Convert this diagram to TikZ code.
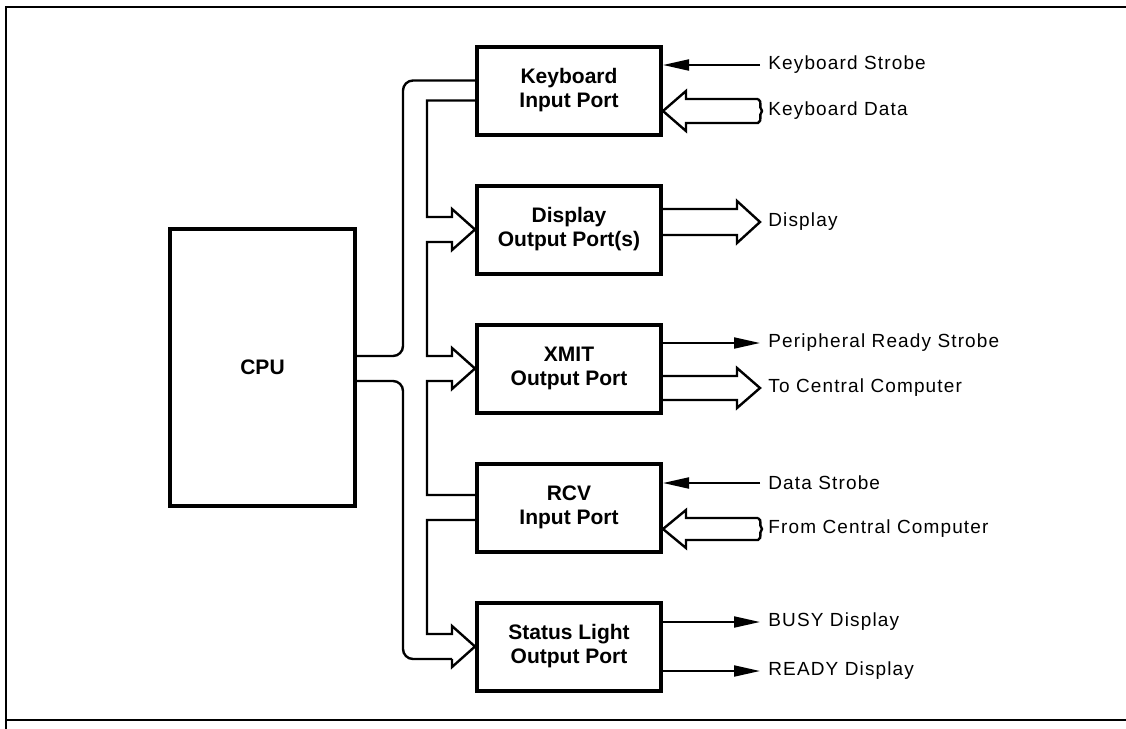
\documentclass[tikz,border=0pt]{standalone}
\usepackage{fontspec}
\setmainfont{Liberation Sans}
\usetikzlibrary{calc, positioning, arrows.meta}

\begin{document}
\begin{tikzpicture}[
    x=0.5pt, y=-0.5pt,
    port/.style={draw, line width=2pt, minimum width=92pt, minimum height=44pt,
      inner sep=2pt, align=center, font=\bfseries\fontsize{10.5}{12}\selectfont},
    sig/.style={anchor=west, inner sep=4pt,
      font=\fontsize{9.5}{11}\selectfont\addfontfeatures{LetterSpace=6}},
    bus/.style={line width=1.2pt, line join=miter},
    strobe/.style={line width=1pt, -{Triangle[length=13pt, width=5.5pt]}},
    node distance=23.5pt,
  ]
    \useasboundingbox (0,0) rectangle (1126,729);
    \draw[line width=1.2pt] (1126,7) -- (6,7) -- (6,729);
    \draw[line width=1pt] (6,720) -- (1126,720);

    \node[port, minimum width=92.5pt, minimum height=138.5pt] (cpu) at (262.5,367.5) {CPU};
    \node[port] (kbport) at (569,90.5) {Keyboard\\Input Port};
    \node[port, below=of kbport] (dispport) {Display\\Output Port(s)};
    \node[port, below=of dispport] (xmitport) {XMIT\\Output Port};
    \node[port, below=of xmitport] (rcvport) {RCV\\Input Port};
    \node[port, below=of rcvport] (statport) {Status Light\\Output Port};

    \node[sig] (kbstrobe) at (760,65) {Keyboard Strobe};
    \node[sig] (kbdata) at (760,111) {Keyboard Data};
    \node[sig] (displbl) at (760,222) {Display};
    \node[sig] (prstrobe) at (760,343) {Peripheral Ready Strobe};
    \node[sig] (tocc) at (760,388) {To Central Computer};
    \node[sig] (dstrobe) at (760,483) {Data Strobe};
    \node[sig] (fromcc) at (760,529) {From Central Computer};
    \node[sig] (busy) at (760,622) {BUSY Display};
    \node[sig] (ready) at (760,671) {READY Display};

    % bus between CPU and ports
    \draw[bus, rounded corners=5pt] ($(kbport.west)+(0,-10)$) -| ($(xmitport.west)+(-72,-12.5)$)
      -- ($(cpu.east |- xmitport.west)+(0,-12.5)$);
    \draw[bus, rounded corners=5pt] ($(statport.west)+(-23,12.5)$) -| ($(xmitport.west)+(-72,12.5)$)
      -- ($(cpu.east |- xmitport.west)+(0,12.5)$);
    \draw[bus] ($(kbport.west)+(0,10)$) -| ($(dispport.west)+(-48,-12.5)$) -- ++(25,0) -- ++(0,-8)
      -- (dispport.west) -- ++(-23,20.5) -- ++(0,-8) -| ($(xmitport.west)+(-48,-12.5)$) -- ++(25,0)
      -- ++(0,-8) -- (xmitport.west) -- ++(-23,20.5) -- ++(0,-8) -| ($(rcvport.west)+(-48,-12.5)$)
      -- ($(rcvport.west)+(0,-12.5)$);
    \draw[bus] ($(rcvport.west)+(0,12.5)$) -| ($(statport.west)+(-48,-12.5)$) -- ++(25,0) -- ++(0,-8)
      -- (statport.west) -- ++(-23,20.5) -- ++(0,-8);

    % peripheral side
    \draw[strobe] (kbstrobe.west) -- (kbstrobe.west -| kbport.east);
    \draw[strobe] (prstrobe.west -| xmitport.east) -- (prstrobe.west);
    \draw[strobe] (dstrobe.west) -- (dstrobe.west -| rcvport.east);
    \draw[strobe] (busy.west -| statport.east) -- (busy.west);
    \draw[strobe] (ready.west -| statport.east) -- (ready.west);

    \draw[bus] ($(kbdata.west)+(-2,-12)$) -- ($(kbdata.west -| kbport.east)+(23,-12)$) -- ++(0,-8)
      -- (kbdata.west -| kbport.east) -- ++(23,20) -- ++(0,-8) -- ($(kbdata.west)+(-2,12)$)
      .. controls +(5,-3) and +(-4,5) .. ($(kbdata.west)+(2,0)$)
      .. controls +(-4,-5) and +(5,3) .. ($(kbdata.west)+(-2,-12)$);
    \draw[bus] ($(fromcc.west)+(-2,-11)$) -- ($(fromcc.west -| rcvport.east)+(23,-11)$) -- ++(0,-8)
      -- (fromcc.west -| rcvport.east) -- ++(23,19) -- ++(0,-8) -- ($(fromcc.west)+(-2,11)$)
      .. controls +(5,-3) and +(-4,5) .. ($(fromcc.west)+(2,0)$)
      .. controls +(-4,-5) and +(5,3) .. ($(fromcc.west)+(-2,-11)$);
    \draw[bus] ($(displbl.west -| dispport.east)+(0,-13)$) -- ($(displbl.west)+(-23,-13)$) -- ++(0,-8)
      -- (displbl.west) -- ++(-23,21) -- ++(0,-8) -- ($(displbl.west -| dispport.east)+(0,13)$);
    \draw[bus] ($(tocc.west -| xmitport.east)+(0,-12)$) -- ($(tocc.west)+(-23,-12)$) -- ++(0,-8)
      -- (tocc.west) -- ++(-23,20) -- ++(0,-8) -- ($(tocc.west -| xmitport.east)+(0,12)$);
  \end{tikzpicture}
\end{document}
